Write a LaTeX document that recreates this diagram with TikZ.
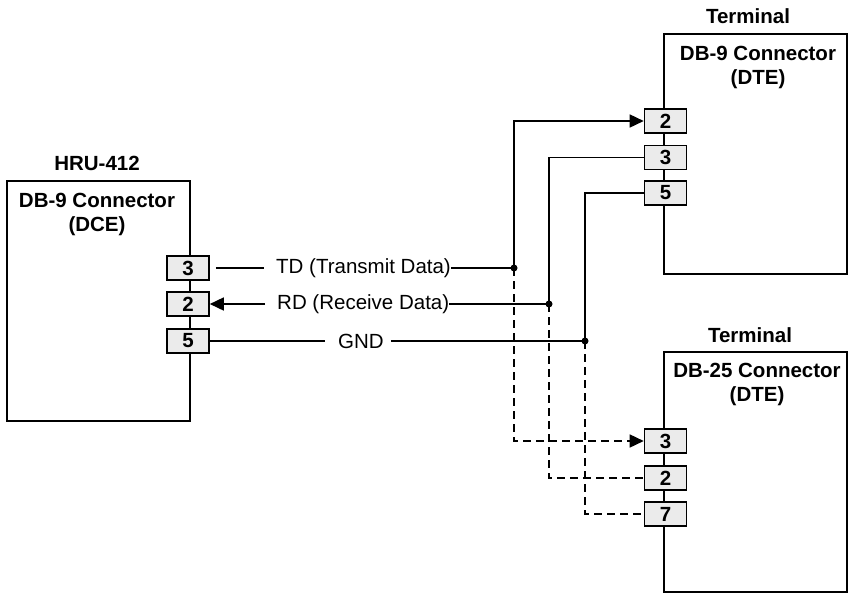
\documentclass[tikz,border=0pt]{standalone}
\usepackage{fontspec}
\setmainfont{Liberation Sans}
\usetikzlibrary{arrows.meta,calc}
\begin{document}
\begin{tikzpicture}[x=1pt,y=-1pt,
  wire/.style={line width=1.6pt},
  dwire/.style={line width=1.6pt,dash pattern=on 8pt off 5pt},
  conbox/.style={draw,line width=2.8pt},
  pin/.style={draw,line width=1.6pt,fill=black!8,minimum width=42pt,minimum height=24pt,inner sep=0pt,font=\fontsize{20.5}{22}\selectfont\bfseries},
  title/.style={font=\fontsize{20.5}{22}\selectfont\bfseries,inner sep=0pt},
  contitle/.style={font=\fontsize{20.5}{24}\selectfont\bfseries,align=center,inner sep=0pt},
  sig/.style={font=\fontsize{20.5}{22}\selectfont,inner sep=0pt,anchor=west},
  tip/.style={-{Triangle[length=14pt,width=13pt]}},
  dot/.style={circle,fill,inner sep=0pt,minimum size=7pt}
]
\useasboundingbox (0,0) rectangle (849,595);
% boxes
\draw[conbox] (7,181) rectangle (190,421);
\draw[conbox] (664,34) rectangle (847,274);
\draw[conbox] (664,352) rectangle (847,592);
% titles
\node[title] (hru) at (97,163) {HRU-412};
\node[contitle] (lc) at (97,214) {DB-9 Connector\\(DCE)};
\node[title] (t1) at (748,16) {Terminal};
\node[contitle] (c1) at (758,67) {DB-9 Connector\\(DTE)};
\node[title] (t2) at (750,335) {Terminal};
\node[contitle] (c2) at (757,384) {DB-25 Connector\\(DTE)};
% pins
\node[pin] (L3) at (188,268) {3};
\node[pin] (L2) at (188,304) {2};
\node[pin] (L5) at (188,341) {5};
\node[pin] (A2) at (665.5,121) {2};
\node[pin] (A3) at (665.5,157.5) {3};
\node[pin] (A5) at (665.5,193) {5};
\node[pin] (B3) at (665.5,441) {3};
\node[pin] (B2) at (665.5,478) {2};
\node[pin] (B7) at (665.5,514) {7};
% signal labels
\node[sig] (td) at (276,268) {TD (Transmit Data)};
\node[sig] (rd) at (277,304) {RD (Receive Data)};
\node[sig] (gnd) at (338,341) {GND};
% junctions
\coordinate (jtd) at (514,268);
\coordinate (jrd) at (549,304);
\coordinate (jgnd) at (585,341);
\node[dot] (dtd) at (jtd) {};
\node[dot] (drd) at (jrd) {};
\node[dot] (dgnd) at (jgnd) {};
% solid wires
\draw[wire] ($(L3.east)+(6,0)$) -- ($(td.west)+(-12,0)$);
\draw[wire] (td.east) -- (jtd);
\draw[wire,tip] ($(rd.west)+(-12,0)$) -- (L2.east);
\draw[wire] (rd.east) -- (jrd);
\draw[wire] (L5.east) -- ($(gnd.west)+(-13,0)$);
\draw[wire] ($(gnd.east)+(7,0)$) -- (jgnd);
\draw[wire,tip] (jtd) |- (A2.west);
\draw[wire] (jrd) |- (A3.west);
\draw[wire] (jgnd) |- (A5.west);
% dashed wires
\draw[dwire,tip] (jtd) |- (B3.west);
\draw[dwire] (jrd) |- (B2.west);
\draw[dwire] (jgnd) |- (B7.west);
\end{tikzpicture}
\end{document}
